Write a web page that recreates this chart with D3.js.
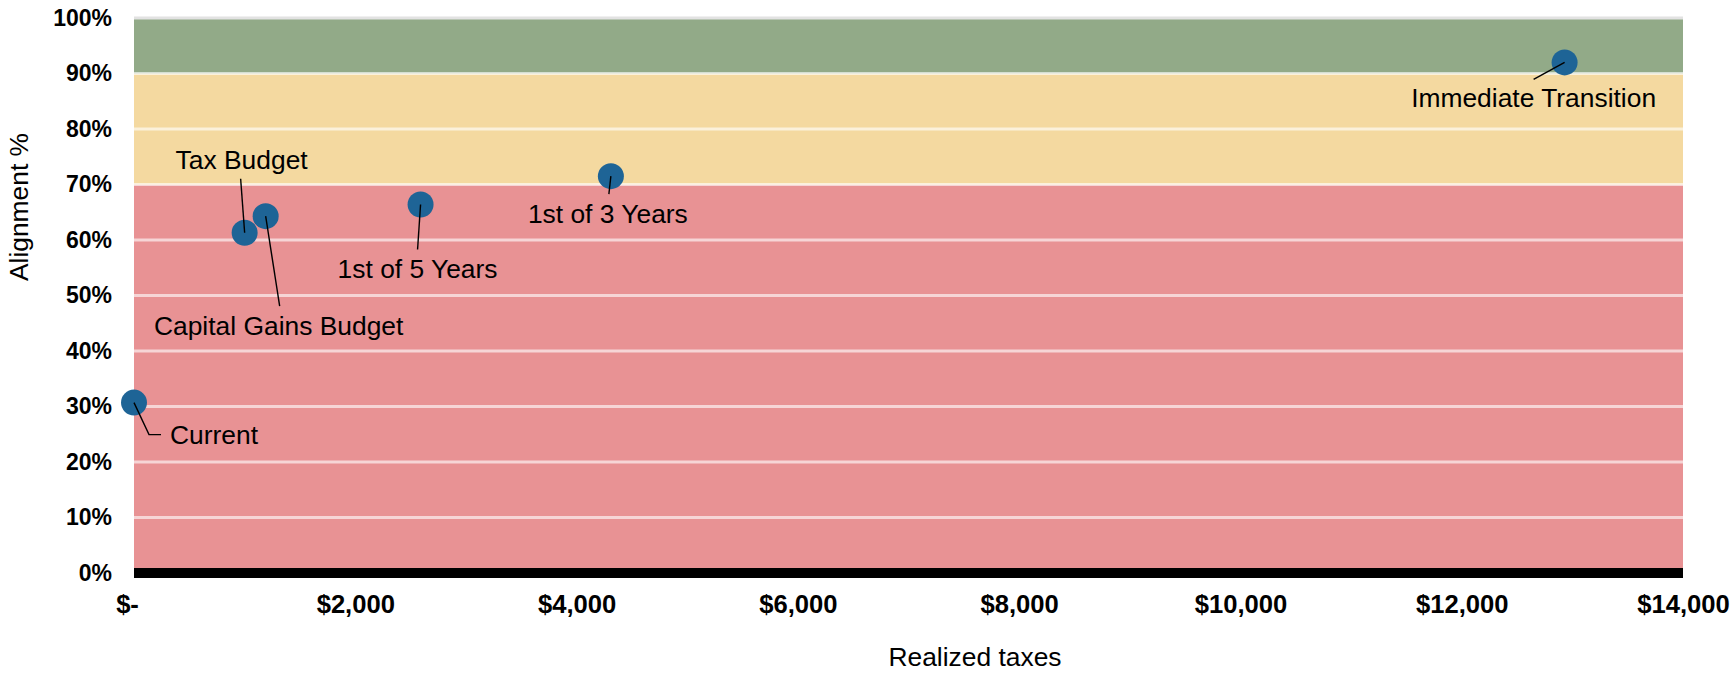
<!DOCTYPE html>
<html>
<head>
<meta charset="utf-8">
<script src="https://cdn.jsdelivr.net/npm/d3@7"></script>
<style>
  html, body { margin: 0; padding: 0; background: #ffffff; }
  svg { display: block; font-family: "Liberation Sans", Arial, sans-serif; }
</style>
</head>
<body>
<svg id="chart" width="1733" height="673"></svg>
<script>
// Scenario names and their outcomes
const scenarios = ["Current", "Tax Budget", "Capital Gains Budget", "1st of 5 Years", "1st of 3 Years", "Immediate Transition"];
const realizedTaxes = [0, 1000, 1190, 2590, 4310, 12930];
const alignment = [0.307, 0.613, 0.643, 0.664, 0.715, 0.920];

// Alignment zones (lower bound, upper bound)
const zoneLower = [0.0, 0.7, 0.9];
const zoneUpper = [0.7, 0.9, 1.0];
const zoneColors = ["#e89294", "#f4d9a0", "#92aa88"];

// Axis ticks
const xTicks = [0, 2000, 4000, 6000, 8000, 10000, 12000, 14000];
const yTicks = [0, 0.1, 0.2, 0.3, 0.4, 0.5, 0.6, 0.7, 0.8, 0.9, 1.0];

// Label placement relative to each point (pixels): text anchor, text offset, leader end
const labelLayout = [
  { anchor: "start",  dx: 36,  dy: 41,  path: [[15, 32], [27, 32]] },
  { anchor: "middle", dx: -3,  dy: -64, path: [[-4, -54]] },
  { anchor: "middle", dx: 13,  dy: 119, path: [[14, 90]] },
  { anchor: "middle", dx: -3,  dy: 74,  path: [[-3, 45]] },
  { anchor: "middle", dx: -3,  dy: 47,  path: [[-2, 18]] },
  { anchor: "middle", dx: -31, dy: 45,  path: [[-31, 17]] }
];

const svg = d3.select("#chart");
const plotLeft = 134, plotRight = 1683, plotTop = 18, plotBottom = 573;

const x = d3.scaleLinear().domain([0, 14000]).range([plotLeft, plotRight]);
const y = d3.scaleLinear().domain([0, 1]).range([plotBottom, plotTop]);

// Zone bands
svg.append("g").selectAll("rect")
  .data(zoneLower)
  .join("rect")
  .attr("x", plotLeft)
  .attr("width", plotRight - plotLeft)
  .attr("y", (d, i) => y(zoneUpper[i]))
  .attr("height", (d, i) => y(d) - y(zoneUpper[i]))
  .attr("fill", (d, i) => zoneColors[i]);

// Horizontal gridlines
svg.append("g").selectAll("line")
  .data(yTicks.filter(d => d > 0))
  .join("line")
  .attr("x1", plotLeft).attr("x2", plotRight)
  .attr("y1", d => y(d)).attr("y2", d => y(d))
  .attr("stroke", d => d === 1 ? "#e2e2e2" : "#ffffff")
  .attr("stroke-opacity", d => d === 1 ? 1 : 0.62)
  .attr("stroke-width", 3);

// Y axis (labels only)
const yAxis = svg.append("g")
  .attr("transform", `translate(${plotLeft},0)`)
  .call(d3.axisLeft(y).tickValues(yTicks).tickFormat(d3.format(".0%")).tickSize(0).tickPadding(22));
yAxis.select(".domain").remove();
yAxis.selectAll("text")
  .attr("font-family", "'Liberation Sans', Arial, sans-serif")
  .attr("font-size", 23)
  .attr("font-weight", "bold")
  .attr("fill", "#000");

// X axis: thick baseline with labels
const xAxis = svg.append("g")
  .attr("transform", `translate(0,${plotBottom})`)
  .call(d3.axisBottom(x).tickValues(xTicks)
    .tickFormat(d => d === 0 ? "$-" : "$" + d3.format(",")(d))
    .tickSize(0).tickPadding(22));
xAxis.select(".domain").remove();
xAxis.selectAll("text")
  .attr("font-family", "'Liberation Sans', Arial, sans-serif")
  .attr("font-size", 25.6)
  .attr("font-weight", "bold")
  .attr("fill", "#000")
  .attr("dx", d => d === 0 ? -7 : 0);

svg.append("line")
  .attr("x1", x(0)).attr("x2", x(14000))
  .attr("y1", y(0)).attr("y2", y(0))
  .attr("stroke", "#000")
  .attr("stroke-width", 10);

// Axis titles
svg.append("text")
  .attr("x", 975).attr("y", 666)
  .attr("text-anchor", "middle")
  .attr("font-size", 26.4)
  .attr("fill", "#000")
  .text("Realized taxes");

svg.append("text")
  .attr("transform", "translate(28,207) rotate(-90)")
  .attr("text-anchor", "middle")
  .attr("font-size", 26.4)
  .attr("fill", "#000")
  .text("Alignment %");

// Points
const pts = scenarios.map((name, i) => ({
  name, cx: x(realizedTaxes[i]), cy: y(alignment[i]), layout: labelLayout[i]
}));

svg.append("g").selectAll("circle")
  .data(pts)
  .join("circle")
  .attr("cx", d => d.cx)
  .attr("cy", d => d.cy)
  .attr("r", 13)
  .attr("fill", "#1e6496");

// Leader lines
svg.append("g").selectAll("path")
  .data(pts)
  .join("path")
  .attr("d", d => {
    const p = d3.path();
    p.moveTo(d.cx, d.cy);
    d.layout.path.forEach(([dx, dy]) => p.lineTo(d.cx + dx, d.cy + dy));
    return p.toString();
  })
  .attr("fill", "none")
  .attr("stroke", "#000")
  .attr("stroke-width", 1.4);

// Labels
svg.append("g").selectAll("text")
  .data(pts)
  .join("text")
  .attr("x", d => d.cx + d.layout.dx)
  .attr("y", d => d.cy + d.layout.dy)
  .attr("text-anchor", d => d.layout.anchor)
  .attr("font-size", 26.4)
  .attr("fill", "#000")
  .text(d => d.name);
</script>
</body>
</html>
